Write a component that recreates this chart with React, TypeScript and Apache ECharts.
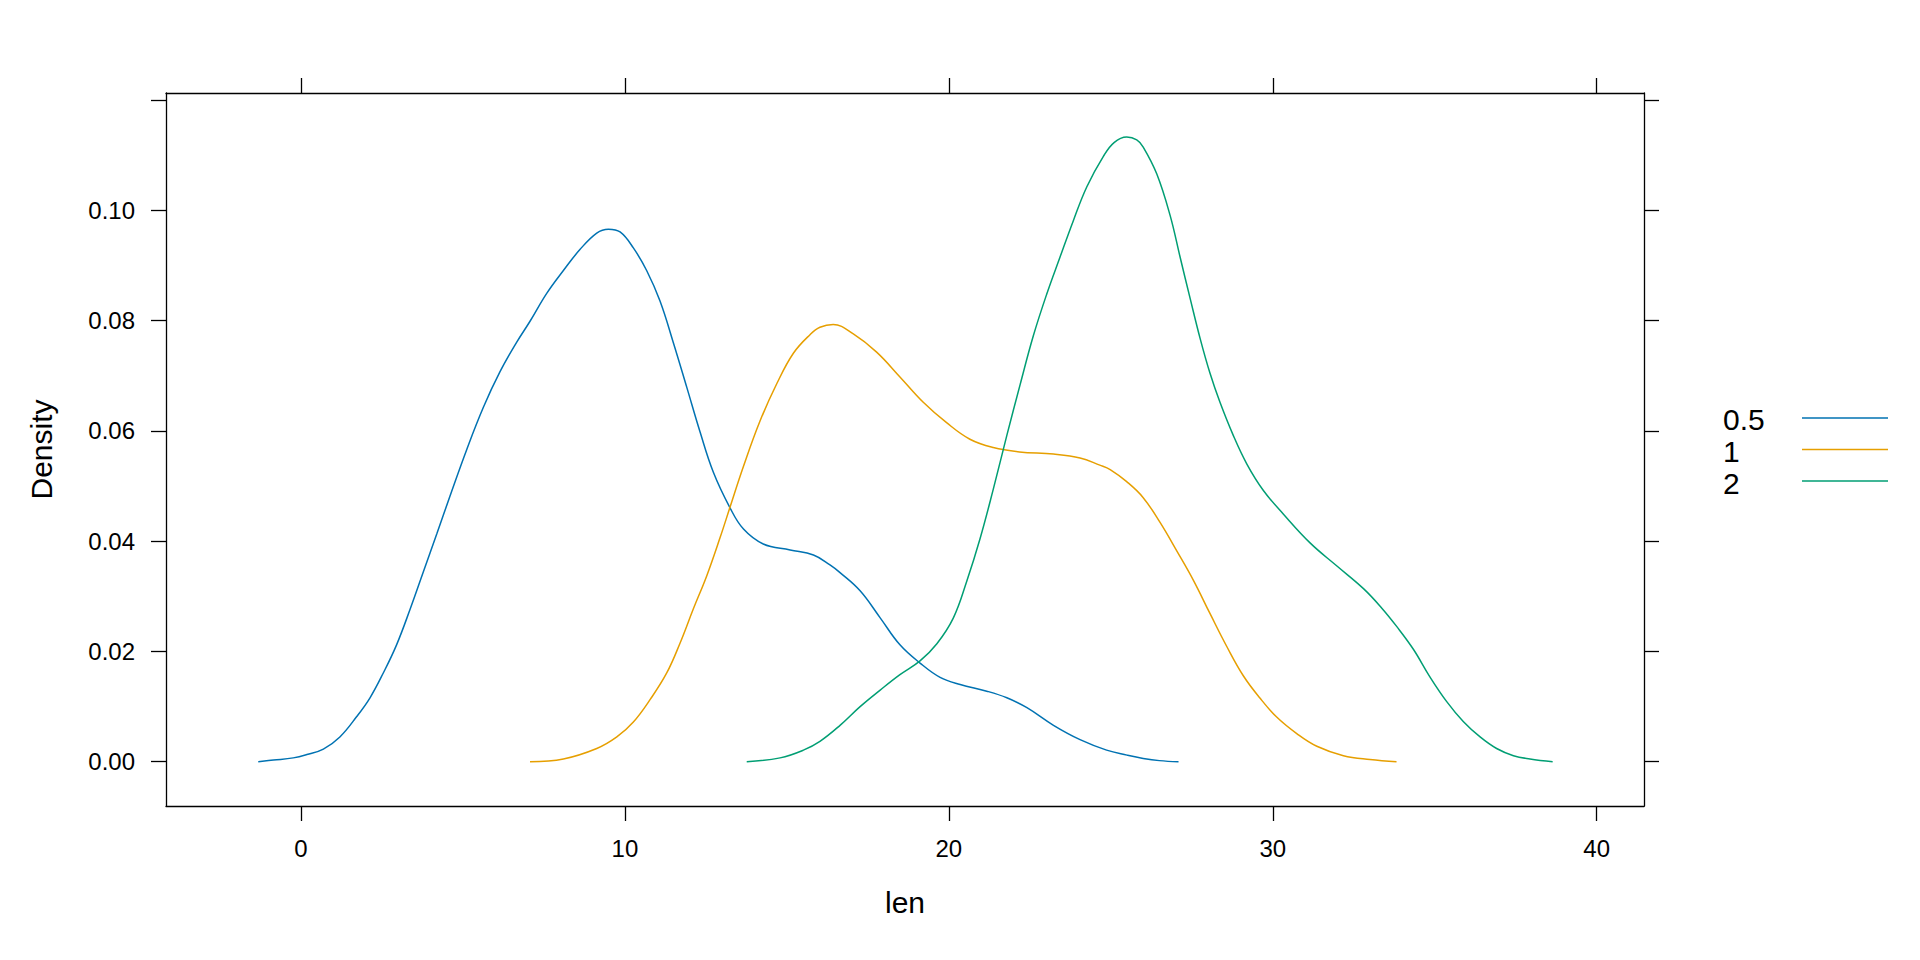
import React, { useEffect, useRef } from "react";
import * as echarts from "echarts";

// ---- data ----
const doseLevels = ["0.5", "1", "2"];
const doseColors = ["#0072B2", "#E69F00", "#009E73"];

const dose05: [number, number][] = [
  [-1.32, 0], [-0.85, 0.0003], [-0.24, 0.0007], [0.18, 0.0013], [0.69, 0.0023],
  [1.2, 0.0045], [1.72, 0.0082], [2.13, 0.0116], [2.54, 0.0161], [2.95, 0.0212],
  [3.37, 0.0277], [3.78, 0.0345], [4.19, 0.0413], [4.6, 0.0482], [5.12, 0.0567],
  [5.63, 0.0643], [6.14, 0.0707], [6.66, 0.0761], [7.07, 0.0799], [7.59, 0.085],
  [8.1, 0.0891], [8.61, 0.0929], [9.13, 0.0959], [9.49, 0.0966], [9.85, 0.0961],
  [10.26, 0.0932], [10.67, 0.0891], [11.08, 0.0836], [11.49, 0.0761], [11.91, 0.0679],
  [12.32, 0.0598], [12.73, 0.0525], [13.24, 0.0461], [13.66, 0.0422], [14.27, 0.0395],
  [15.1, 0.0384], [15.82, 0.0375], [16.33, 0.0357], [16.64, 0.0343], [17.26, 0.031],
  [17.88, 0.0261], [18.49, 0.0212], [19.11, 0.0179], [19.73, 0.0153], [20.35, 0.014],
  [21.17, 0.0128], [21.79, 0.0116], [22.41, 0.0098], [23.23, 0.0066], [24.05, 0.004],
  [24.87, 0.0021], [25.5, 0.0012], [26.0, 0.0006], [26.5, 0.0002], [27.09, 0],
];

const dose1: [number, number][] = [
  [7.07, 0], [8.1, 0.0005], [9.13, 0.0024], [9.75, 0.0045], [10.26, 0.0072],
  [10.78, 0.0113], [11.29, 0.0161], [11.7, 0.0215], [12.11, 0.0277], [12.53, 0.0338],
  [12.94, 0.0407], [13.24, 0.0461], [13.66, 0.0536], [14.17, 0.0618], [14.69, 0.0686],
  [15.2, 0.0741], [15.72, 0.0775], [16.02, 0.0788], [16.43, 0.0793], [17.05, 0.0776],
  [17.77, 0.0743], [18.49, 0.0698], [19.21, 0.0652], [19.93, 0.0615], [20.65, 0.0585],
  [21.37, 0.057], [22.18, 0.0562], [23.23, 0.0558], [24.05, 0.0551], [24.66, 0.0538],
  [24.98, 0.053], [25.49, 0.0508], [26.0, 0.0479], [26.52, 0.0434], [27.04, 0.0382],
  [27.55, 0.0329], [28.06, 0.0269], [28.58, 0.0209], [29.09, 0.0156], [29.61, 0.0115],
  [30.12, 0.0081], [30.74, 0.0051], [31.36, 0.0028], [32.18, 0.0011], [33.0, 0.0004],
  [33.82, 0],
];

const dose2: [number, number][] = [
  [13.76, 0], [14.79, 0.0007], [15.51, 0.0021], [16.02, 0.0037], [16.64, 0.0066],
  [17.26, 0.01], [17.88, 0.013], [18.49, 0.0158], [19.11, 0.0183], [19.63, 0.0214],
  [20.14, 0.0261], [20.55, 0.0327], [20.96, 0.0404], [21.37, 0.0494], [21.79, 0.0592],
  [22.2, 0.0684], [22.61, 0.0773], [23.02, 0.0848], [23.43, 0.0915], [23.84, 0.0981],
  [24.26, 0.1043], [24.77, 0.1098], [25.1, 0.1123], [25.49, 0.1133], [25.8, 0.1128],
  [26.0, 0.1115], [26.42, 0.1066], [26.83, 0.0991], [27.14, 0.0915], [27.45, 0.084],
  [27.76, 0.0767], [28.06, 0.0705], [28.37, 0.0652], [28.78, 0.0592], [29.2, 0.054],
  [29.71, 0.0492], [30.33, 0.0449], [31.15, 0.0397], [31.98, 0.0355], [32.8, 0.0314],
  [33.36, 0.0279], [33.83, 0.0245], [34.34, 0.0204], [34.85, 0.0154], [35.37, 0.0109],
  [35.88, 0.0073], [36.4, 0.0045], [36.91, 0.0024], [37.43, 0.0011], [37.94, 0.0005],
  [38.64, 0],
];

const xTicks = [0, 10, 20, 30, 40];
const yTicks = [0, 0.02, 0.04, 0.06, 0.08, 0.1, 0.12];
const yLabels = [0, 0.02, 0.04, 0.06, 0.08, 0.1];
const xRange = [-4.168, 41.46];
const yRange = [-0.00803, 0.1213];
const xTitle = "len";
const yTitle = "Density";

const FONT = "Liberation Sans, Arial, sans-serif";
const AX = "#000000";

export default function App() {
  const ref = useRef<HTMLDivElement>(null);

  useEffect(() => {
    if (!ref.current) return;
    const chart = echarts.init(ref.current, undefined, { renderer: "svg" });

    const axisLine = { show: true, onZero: false, lineStyle: { color: AX, width: 1.3 } };
    const tickStyle = { color: AX, width: 1.3 };

    const seriesData = [dose05, dose1, dose2];

    const legendGraphics: any[] = [];
    const legendTextY = [419.5, 451.5, 483];
    const legendLineY = [418, 449.5, 481];
    doseLevels.forEach((lv, i) => {
      legendGraphics.push({
        type: "text",
        x: 1723,
        y: legendTextY[i],
        style: {
          text: lv,
          fontSize: 30,
          fontFamily: FONT,
          fill: "#000",
          align: "left",
          verticalAlign: "middle",
        },
      });
      legendGraphics.push({
        type: "line",
        shape: { x1: 1802, y1: legendLineY[i], x2: 1888, y2: legendLineY[i] },
        style: { stroke: doseColors[i], lineWidth: 1.6 },
      });
    });

    chart.setOption({
      animation: false,
      backgroundColor: "#ffffff",
      textStyle: { fontFamily: FONT, color: "#000" },
      grid: {
        left: 166,
        top: 93,
        right: 276,
        bottom: 154,
        containLabel: false,
        outerBoundsMode: "none",
      },
      xAxis: [
        {
          type: "value",
          position: "bottom",
          min: xRange[0],
          max: xRange[1],
          axisLine,
          axisTick: { show: true, customValues: xTicks, length: 15, inside: false, lineStyle: tickStyle },
          axisLabel: {
            show: true,
            customValues: xTicks,
            fontSize: 24,
            color: "#000",
            margin: 30,
            formatter: (v: number) => String(Math.round(v)),
          },
          splitLine: { show: false },
          name: xTitle,
          nameLocation: "middle",
          nameGap: 81,
          nameTextStyle: { fontSize: 30, color: "#000", fontFamily: FONT },
        },
        {
          type: "value",
          position: "top",
          min: xRange[0],
          max: xRange[1],
          axisLine,
          axisTick: { show: true, customValues: xTicks, length: 15, inside: false, lineStyle: tickStyle },
          axisLabel: { show: false },
          splitLine: { show: false },
        },
      ],
      yAxis: [
        {
          type: "value",
          position: "left",
          min: yRange[0],
          max: yRange[1],
          axisLine,
          axisTick: { show: true, customValues: yTicks, length: 15, inside: false, lineStyle: tickStyle },
          axisLabel: {
            show: true,
            customValues: yLabels,
            fontSize: 24,
            color: "#000",
            margin: 31,
            formatter: (v: number) => v.toFixed(2),
          },
          splitLine: { show: false },
          name: yTitle,
          nameLocation: "middle",
          nameGap: 110,
          nameRotate: 90,
          nameTextStyle: { fontSize: 30, color: "#000", fontFamily: FONT },
        },
        {
          type: "value",
          position: "right",
          min: yRange[0],
          max: yRange[1],
          axisLine,
          axisTick: { show: true, customValues: yTicks, length: 15, inside: false, lineStyle: tickStyle },
          axisLabel: { show: false },
          splitLine: { show: false },
        },
      ],
      series: seriesData.map((d, i) => ({
        type: "line",
        name: doseLevels[i],
        data: d,
        xAxisIndex: 0,
        yAxisIndex: 0,
        showSymbol: false,
        symbol: "none",
        smooth: 0.4,
        lineStyle: { color: doseColors[i], width: 1.5 },
        itemStyle: { color: doseColors[i] },
        clip: false,
      })),
      graphic: legendGraphics,
    });

    return () => chart.dispose();
  }, []);

  return (
    <div
      ref={ref}
      style={{ position: "absolute", left: 0, top: 0, width: 1920, height: 960, background: "#fff" }}
    />
  );
}
